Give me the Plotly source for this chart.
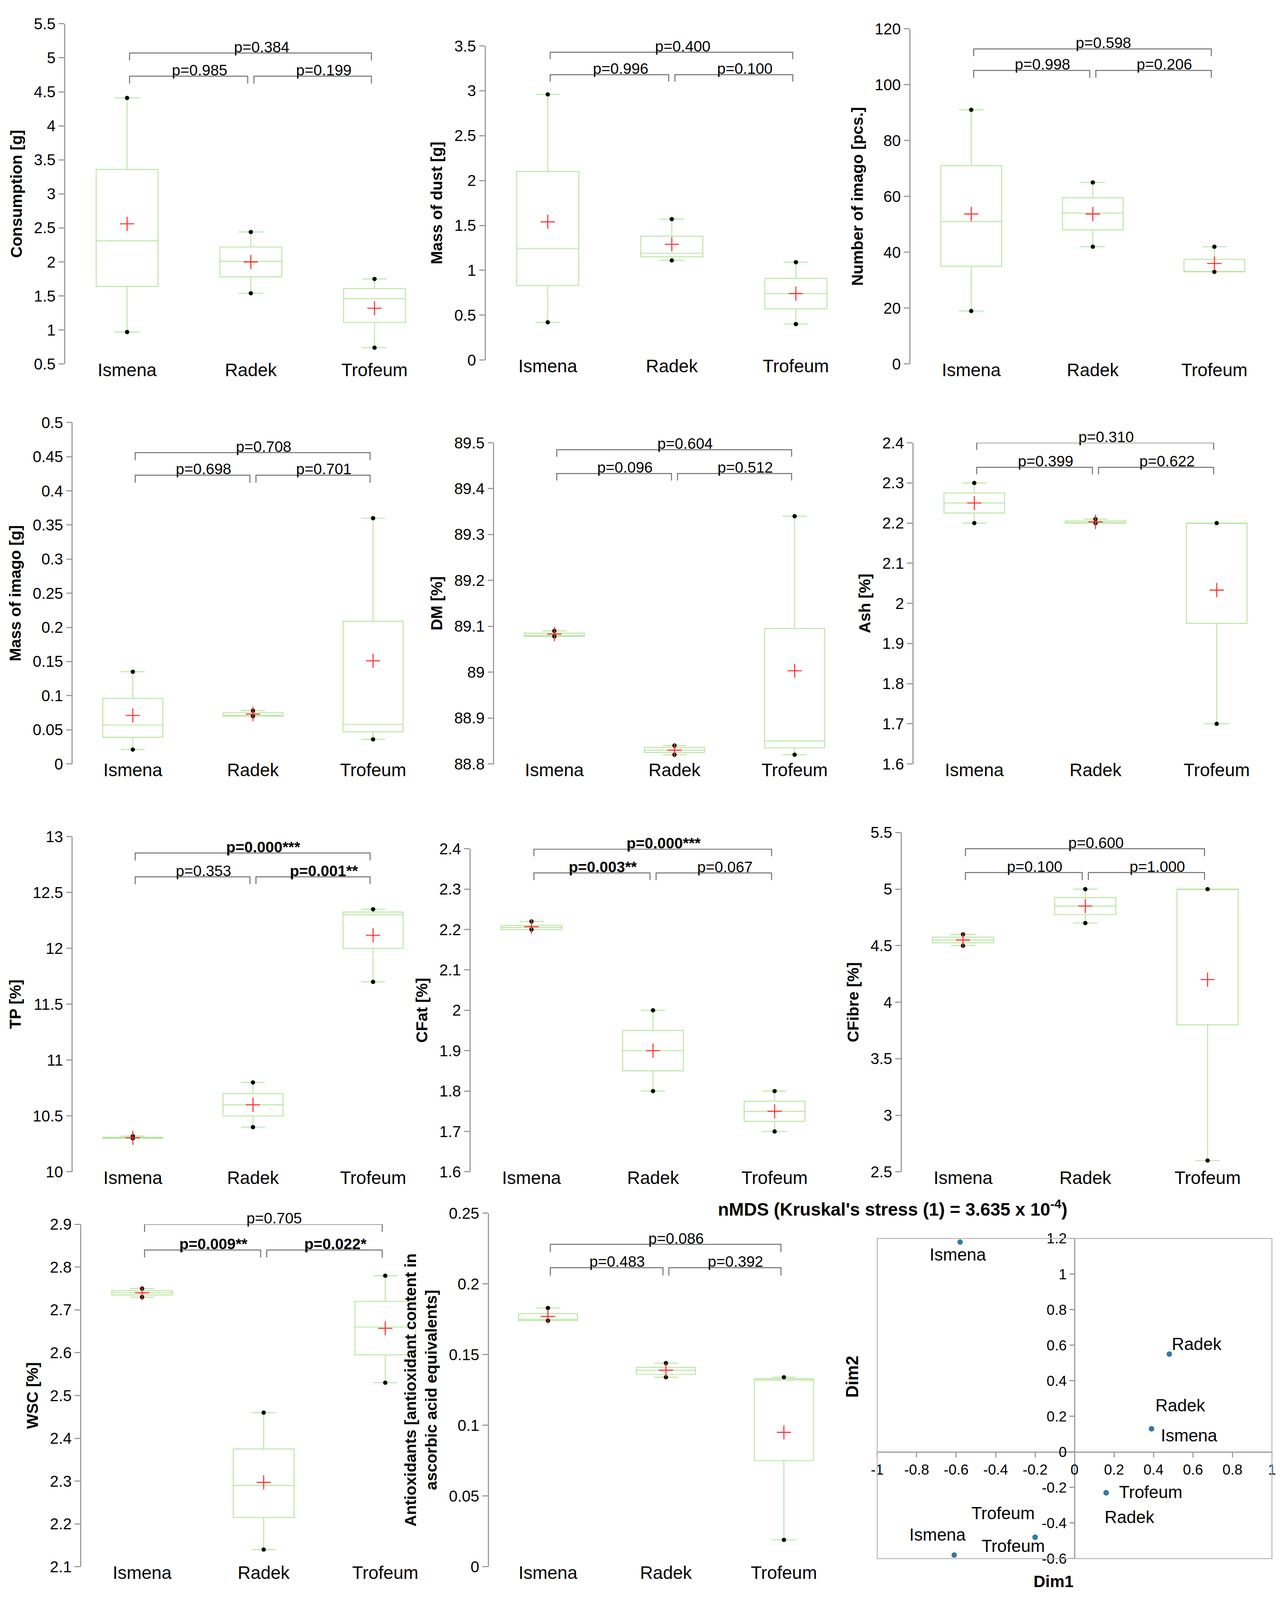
import plotly.graph_objects as go

groups = ["Ismena", "Radek", "Trofeum"]

# box statistics, each list ordered Ismena, Radek, Trofeum
consumption_min = [0.97, 1.54, 0.74]
consumption_q1 = [1.64, 1.78, 1.11]
consumption_median = [2.31, 2.01, 1.46]
consumption_q3 = [3.36, 2.22, 1.61]
consumption_max = [4.41, 2.44, 1.75]
consumption_mean = [2.56, 2.00, 1.32]
consumption_p = ["p=0.985", "p=0.199", "p=0.384"]

dust_min = [0.42, 1.11, 0.40]
dust_q1 = [0.83, 1.15, 0.57]
dust_median = [1.24, 1.19, 0.74]
dust_q3 = [2.10, 1.38, 0.91]
dust_max = [2.96, 1.57, 1.09]
dust_mean = [1.54, 1.29, 0.74]
dust_p = ["p=0.996", "p=0.100", "p=0.400"]

imago_n_min = [19, 42, 33]
imago_n_q1 = [35, 48, 33]
imago_n_median = [51, 54, 33]
imago_n_q3 = [71, 59.5, 37.5]
imago_n_max = [91, 65, 42]
imago_n_mean = [53.7, 53.7, 36]
imago_n_p = ["p=0.998", "p=0.206", "p=0.598"]

imago_mass_min = [0.021, 0.070, 0.036]
imago_mass_q1 = [0.039, 0.070, 0.047]
imago_mass_median = [0.057, 0.071, 0.058]
imago_mass_q3 = [0.096, 0.075, 0.209]
imago_mass_max = [0.135, 0.078, 0.360]
imago_mass_mean = [0.071, 0.073, 0.151]
imago_mass_p = ["p=0.698", "p=0.701", "p=0.708"]

dm_min = [89.078, 88.82, 88.82]
dm_q1 = [89.078, 88.825, 88.835]
dm_median = [89.08, 88.83, 88.85]
dm_q3 = [89.085, 88.836, 89.095]
dm_max = [89.09, 88.84, 89.34]
dm_mean = [89.083, 88.83, 89.003]
dm_p = ["p=0.096", "p=0.512", "p=0.604"]

ash_min = [2.20, 2.20, 1.70]
ash_q1 = [2.225, 2.20, 1.95]
ash_median = [2.25, 2.20, 2.20]
ash_q3 = [2.275, 2.205, 2.20]
ash_max = [2.30, 2.21, 2.20]
ash_mean = [2.25, 2.203, 2.033]
ash_p = ["p=0.399", "p=0.622", "p=0.310"]

tp_min = [10.30, 10.40, 11.70]
tp_q1 = [10.30, 10.50, 12.00]
tp_median = [10.30, 10.60, 12.30]
tp_q3 = [10.31, 10.70, 12.325]
tp_max = [10.32, 10.80, 12.35]
tp_mean = [10.305, 10.60, 12.117]
tp_p = ["p=0.353", "p=0.001**", "p=0.000***"]

cfat_min = [2.20, 1.80, 1.70]
cfat_q1 = [2.20, 1.85, 1.725]
cfat_median = [2.205, 1.90, 1.75]
cfat_q3 = [2.21, 1.95, 1.775]
cfat_max = [2.22, 2.00, 1.80]
cfat_mean = [2.207, 1.90, 1.75]
cfat_p = ["p=0.003**", "p=0.067", "p=0.000***"]

cfibre_min = [4.50, 4.70, 2.60]
cfibre_q1 = [4.525, 4.775, 3.80]
cfibre_median = [4.55, 4.85, 5.00]
cfibre_q3 = [4.575, 4.925, 5.00]
cfibre_max = [4.60, 5.00, 5.00]
cfibre_mean = [4.55, 4.85, 4.20]
cfibre_p = ["p=0.100", "p=1.000", "p=0.600"]

wsc_min = [2.73, 2.14, 2.53]
wsc_q1 = [2.735, 2.215, 2.595]
wsc_median = [2.74, 2.29, 2.66]
wsc_q3 = [2.745, 2.375, 2.72]
wsc_max = [2.75, 2.46, 2.78]
wsc_mean = [2.74, 2.297, 2.657]
wsc_p = ["p=0.009**", "p=0.022*", "p=0.705"]

antiox_min = [0.174, 0.134, 0.019]
antiox_q1 = [0.174, 0.136, 0.075]
antiox_median = [0.175, 0.139, 0.132]
antiox_q3 = [0.179, 0.141, 0.133]
antiox_max = [0.183, 0.144, 0.134]
antiox_mean = [0.177, 0.139, 0.095]
antiox_p = ["p=0.483", "p=0.392", "p=0.086"]

# nMDS configuration
nmds_labels = ["Ismena", "Ismena", "Ismena", "Radek", "Radek", "Radek",
               "Trofeum", "Trofeum", "Trofeum"]
nmds_dim1 = [-0.58, 0.39, -0.61, 0.48, 0.39, 0.16, 0.16, -0.20, -0.20]
nmds_dim2 = [1.18, 0.13, -0.58, 0.55, 0.13, -0.23, -0.23, -0.48, -0.48]

GREEN = "#b3e39a"
AXIS = "#9c9c9c"
BRACKET = "#6e6e6e"
FONT = "Liberation Sans, Arial, sans-serif"

# frame of the reference at 1190 x 1568 px, used to place the subplots
W, H = 1190.4, 1567.5


def px_x(v):
    return v / W


def px_y(v):
    return 1 - v / H


panels = [
    dict(title="Consumption [g]", p=consumption_p, yr=(0.5, 5.5), dtick=0.5,
         stats=(consumption_min, consumption_q1, consumption_median, consumption_q3, consumption_max, consumption_mean),
         box=(55, 401, 15, 352), brk=(5.07, 4.73)),
    dict(title="Mass of dust [g]", p=dust_p, yr=(0, 3.5), dtick=0.5,
         stats=(dust_min, dust_q1, dust_median, dust_q3, dust_max, dust_mean),
         box=(447, 794, 37, 348), brk=(3.43, 3.18)),
    dict(title="Number of imago [pcs.]", p=imago_n_p, yr=(0, 120), dtick=20,
         stats=(imago_n_min, imago_n_q1, imago_n_median, imago_n_q3, imago_n_max, imago_n_mean),
         box=(843, 1183, 20, 352), brk=(112.8, 105.1)),
    dict(title="Mass of imago [g]", p=imago_mass_p, yr=(0, 0.5), dtick=0.05,
         stats=(imago_mass_min, imago_mass_q1, imago_mass_median, imago_mass_q3, imago_mass_max, imago_mass_mean),
         box=(62, 398, 410, 748), brk=(0.456, 0.423)),
    dict(title="DM [%]", p=dm_p, yr=(88.8, 89.5), dtick=0.1,
         stats=(dm_min, dm_q1, dm_median, dm_q3, dm_max, dm_mean),
         box=(455, 791, 430, 748), brk=(89.485, 89.433)),
    dict(title="Ash [%]", p=ash_p, yr=(1.6, 2.4), dtick=0.1,
         stats=(ash_min, ash_q1, ash_median, ash_q3, ash_max, ash_mean),
         box=(846, 1185, 430, 748), brk=(2.40, 2.339)),
    dict(title="TP [%]", p=tp_p, yr=(10, 13), dtick=0.5,
         stats=(tp_min, tp_q1, tp_median, tp_q3, tp_max, tp_mean),
         box=(62, 398, 820, 1152), brk=(12.853, 12.64)),
    dict(title="CFat [%]", p=cfat_p, yr=(1.6, 2.4), dtick=0.1,
         stats=(cfat_min, cfat_q1, cfat_median, cfat_q3, cfat_max, cfat_mean),
         box=(433, 773, 832, 1152), brk=(2.399, 2.34)),
    dict(title="CFibre [%]", p=cfibre_p, yr=(2.5, 5.5), dtick=0.5,
         stats=(cfibre_min, cfibre_q1, cfibre_median, cfibre_q3, cfibre_max, cfibre_mean),
         box=(835, 1177, 816, 1152), brk=(5.357, 5.146)),
    dict(title="WSC [%]", p=wsc_p, yr=(2.1, 2.9), dtick=0.1,
         stats=(wsc_min, wsc_q1, wsc_median, wsc_q3, wsc_max, wsc_mean),
         box=(70, 410, 1204, 1543), brk=(2.90, 2.84)),
    dict(title="Antioxidants [antioxidant content in<br>ascorbic acid equivalents]", p=antiox_p, yr=(0, 0.25), dtick=0.05,
         stats=(antiox_min, antiox_q1, antiox_median, antiox_q3, antiox_max, antiox_mean),
         box=(450, 780, 1193, 1543), brk=(0.228, 0.2115)),
]

fig = go.Figure()
xs = list(range(len(groups)))

for i, pn in enumerate(panels, start=1):
    sfx = "" if i == 1 else str(i)
    xr, yr = "x" + sfx, "y" + sfx
    lo, q1, med, q3, hi, mean = pn["stats"]

    fig.add_trace(go.Box(x=xs, q1=q1, median=med, q3=q3, lowerfence=lo, upperfence=hi,
                         width=0.5, whiskerwidth=0.4, boxpoints=False,
                         line=dict(color=GREEN, width=2.2), fillcolor="rgba(0,0,0,0)",
                         xaxis=xr, yaxis=yr, showlegend=False, hoverinfo="skip"))
    fig.add_trace(go.Scatter(x=xs + xs, y=lo + hi, mode="markers",
                             marker=dict(color="black", size=11),
                             xaxis=xr, yaxis=yr, showlegend=False, cliponaxis=False))
    fig.add_trace(go.Scatter(x=xs, y=mean, mode="markers",
                             marker=dict(symbol="cross-thin", size=26, line=dict(color="#ff2a2a", width=2.6)),
                             xaxis=xr, yaxis=yr, showlegend=False, cliponaxis=False))

    x0, x1, ytop, ybot = pn["box"]
    y0, y1 = pn["yr"]
    fig.update_layout({
        "xaxis" + sfx: dict(domain=[px_x(x0), px_x(x1)], range=[-0.5, 2.5], anchor=yr,
                            tickvals=xs, ticktext=groups, ticks="", showline=False,
                            showgrid=False, zeroline=False, ticklabelstandoff=-16,
                            tickfont=dict(size=46, color="black", family=FONT)),
        "yaxis" + sfx: dict(domain=[px_y(ybot), px_y(ytop)], range=[y0, y1], anchor=xr,
                            tick0=y0, dtick=pn["dtick"], showline=True, linecolor=AXIS, linewidth=2.5,
                            ticks="outside", ticklen=14, tickwidth=2.5, tickcolor=AXIS,
                            showgrid=False, zeroline=False,
                            tickfont=dict(size=40, color="black", family=FONT),
                            title=dict(text="<b>" + pn["title"] + "</b>", standoff=18,
                                       font=dict(size=41, color="black", family=FONT))),
    })

    # significance brackets: left pair, right pair, outer pair
    top, low = pn["brk"]
    leg = 0.022 * (y1 - y0)
    for (a, b, lvl), label in zip([(0.02, 0.975, low), (1.025, 1.975, low), (0.02, 1.975, top)], pn["p"]):
        fig.add_shape(type="path", xref=xr, yref=yr,
                      path=f"M {a},{lvl - leg} L {a},{lvl} L {b},{lvl} L {b},{lvl - leg}",
                      line=dict(color=BRACKET, width=2.5))
        txt = "<b>" + label + "</b>" if "*" in label else label
        fig.add_annotation(x=(a + b) / 2 + 0.09, y=lvl, xref=xr, yref=yr, text=txt,
                           showarrow=False, yanchor="bottom", yshift=-8,
                           font=dict(size=39, color="black", family=FONT))

# nMDS panel
nx0, nx1, ny0, ny1 = px_x(812), px_x(1180), px_y(1535), px_y(1218)
xzero = nx0 + (0 - (-1)) / 2 * (nx1 - nx0)
yzero = ny0 + (0 - (-0.6)) / 1.8 * (ny1 - ny0)
fig.add_trace(go.Scatter(x=nmds_dim1, y=nmds_dim2, mode="markers",
                         marker=dict(color="#2f7aa3", size=14),
                         xaxis="x12", yaxis="y12", showlegend=False, cliponaxis=False))
# label offsets in px from each point (right, up)
label_shift = [(-6, -32), (96, -17), (-42, 52), (70, 26), (74, 60),
               (60, -62), (114, 2), (-56, -22), (-82, 62)]
for name, dx, dy, (sx, sy) in zip(nmds_labels, nmds_dim1, nmds_dim2, label_shift):
    fig.add_annotation(x=dx, y=dy, xref="x12", yref="y12", text=name, showarrow=False,
                       xshift=sx, yshift=sy, font=dict(size=44, color="black", family=FONT))

xt = [-1 + 0.2 * k for k in range(11)]
yt = [-0.6 + 0.2 * k for k in range(10)]
fig.update_layout(
    xaxis12=dict(domain=[nx0, nx1], range=[-1, 1], anchor="free", position=yzero,
                 tickvals=xt, ticktext=[f"{round(v, 1):g}" if abs(v) > 1e-9 else "0" for v in xt],
                 showline=True, linecolor=AXIS, linewidth=2.5, ticks="outside", ticklen=12,
                 tickwidth=2.5, tickcolor=AXIS, showgrid=False, zeroline=False,
                 tickfont=dict(size=37, color="black", family=FONT)),
    yaxis12=dict(domain=[ny0, ny1], range=[-0.6, 1.2], anchor="free", position=xzero,
                 tickvals=yt, ticktext=[f"{round(v, 1):g}" if abs(v) > 1e-9 else "0" for v in yt],
                 showline=True, linecolor=AXIS, linewidth=2.5, ticks="outside", ticklen=12,
                 tickwidth=2.5, tickcolor=AXIS, showgrid=False, zeroline=False,
                 tickfont=dict(size=37, color="black", family=FONT)),
)
fig.add_shape(type="rect", xref="x12 domain", yref="y12 domain", x0=0, x1=1, y0=0, y1=1,
              line=dict(color="#b8b8b8", width=2.5))
fig.add_annotation(x=(nx0 + nx1) / 2 - 0.005, y=px_y(1200), xref="paper", yref="paper",
                   text="<b>nMDS (Kruskal's stress (1) = 3.635 x 10<sup>-4</sup>)</b>",
                   showarrow=False, font=dict(size=46, color="black", family=FONT))
fig.add_annotation(x=(nx0 + nx1) / 2, y=0, xref="paper", yref="paper", text="<b>Dim1</b>",
                   yanchor="bottom", yshift=0,
                   showarrow=False, font=dict(size=42, color="black", family=FONT))
fig.add_annotation(x=px_x(798), y=(ny0 + ny1) / 2, xref="paper", yref="paper", text="<b>Dim2</b>",
                   textangle=-90, showarrow=False, font=dict(size=44, color="black", family=FONT))

# fill the browser viewport so the whole grid stays visible
fig.update_layout(autosize=True, margin=dict(l=0, r=0, t=0, b=0),
                  paper_bgcolor="white", plot_bgcolor="white", showlegend=False,
                  font=dict(family=FONT, color="black"))

fig.write_html("out.html", default_width="100vw", default_height="100vh",
               config={"displayModeBar": False},
               post_script="document.body.style.margin='0';"
                           "document.body.style.overflow='hidden';"
                           "Plotly.Plots.resize(document.getElementById('{plot_id}'));")
